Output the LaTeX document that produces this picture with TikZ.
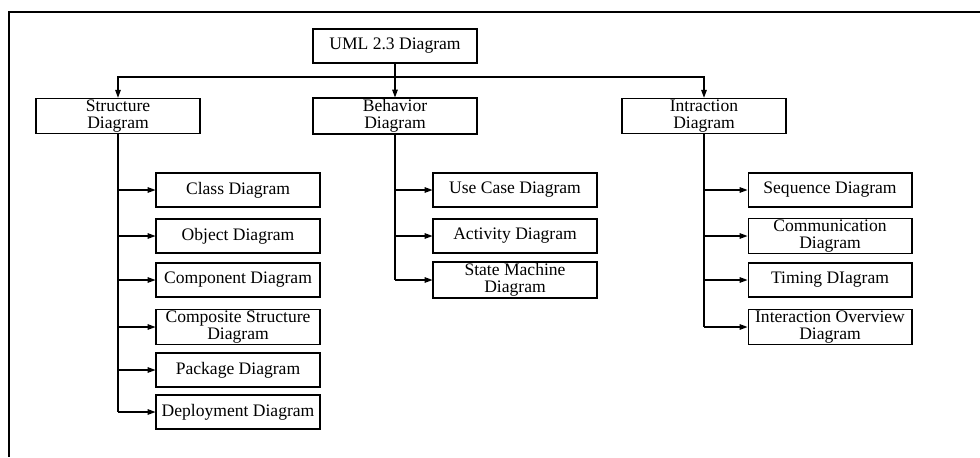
\documentclass[tikz,border=0pt]{standalone}
\usepackage{fontspec}
\setmainfont{Liberation Serif}
\usetikzlibrary{arrows.meta}

\tikzset{
  diag/.style={draw, line width=0.6pt, minimum width=3.28cm, minimum height=0.68cm,
    inner sep=1pt, align=center, font=\fontsize{10}{9.4}\selectfont},
  link/.style={line width=0.6pt, -{Triangle[length=4.5pt,width=3.2pt]}},
  trunk/.style={line width=0.6pt}
}

\begin{document}
\begin{tikzpicture}[x=0.02cm, y=-0.02cm]

  \useasboundingbox (0,0) rectangle (980,457);

  % Frame
  \draw[line width=1.2pt] (980,12) -- (9,12) -- (9,457);

  % Root and the three kinds
  \node[diag] (uml) at (395,46) {UML 2.3 Diagram};
  \node[diag] (struct) at (118,116) {Structure\\Diagram};
  \node[diag] (behav) at (395,116) {Behavior\\Diagram};
  \node[diag] (intr) at (704,116) {Intraction\\Diagram};

  \coordinate (bus) at (395,77);
  \draw[link] (uml.south) -- (behav.north);
  \draw[link] (bus) -| (struct.north);
  \draw[link] (bus) -| (intr.north);

  % Structure diagrams
  \foreach \n/\y/\t in {class/190/Class Diagram, object/236/Object Diagram,
      comp/280/Component Diagram, compo/327/{Composite Structure\\Diagram},
      pack/370/Package Diagram, deploy/412/Deployment Diagram}
  {
    \node[diag] (\n) at (238,\y) {\t};
    \draw[link] (struct.south |- \n.west) -- (\n.west);
  }
  \draw[trunk, line width=1.1pt] (struct.south) -- (struct.south |- deploy.west);

  % Behavior diagrams
  \foreach \n/\y/\t in {usecase/190/Use Case Diagram, activ/236/Activity Diagram,
      state/280/{State Machine\\Diagram}}
  {
    \node[diag] (\n) at (515,\y) {\t};
    \draw[link] (behav.south |- \n.west) -- (\n.west);
  }
  \draw[trunk] (behav.south) -- (behav.south |- state.west);

  % Interaction diagrams
  \foreach \n/\y/\t in {seq/190/Sequence Diagram, commu/236/{Communication\\Diagram},
      timing/280/Timing DIagram, overview/327/{Interaction Overview\\Diagram}}
  {
    \node[diag] (\n) at (830,\y) {\t};
    \draw[link] (intr.south |- \n.west) -- (\n.west);
  }
  \draw[trunk] (intr.south) -- (intr.south |- overview.west);

\end{tikzpicture}
\end{document}
